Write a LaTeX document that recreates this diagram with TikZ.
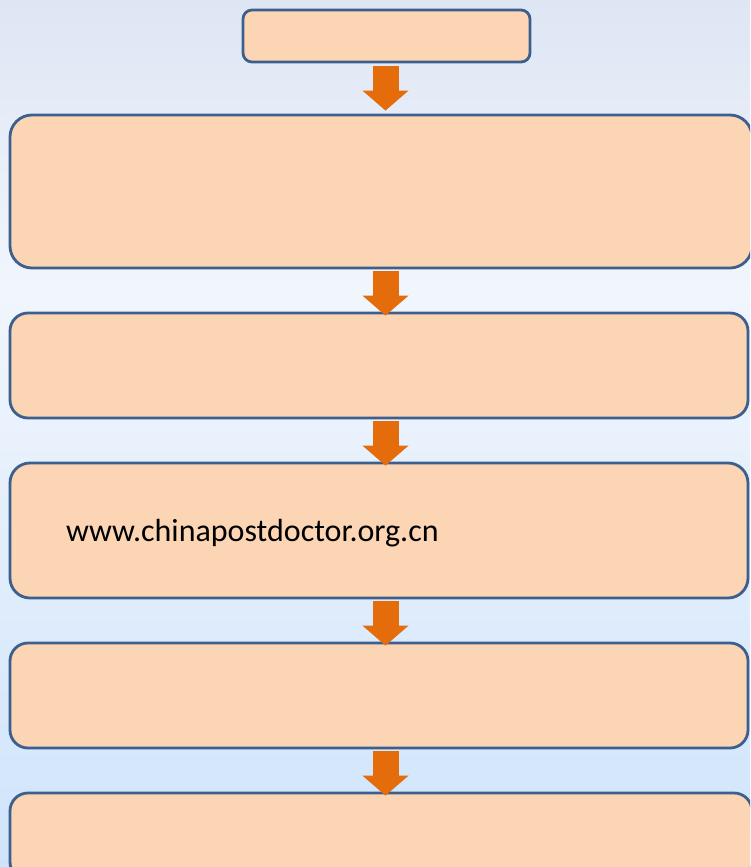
\documentclass[tikz,border=0pt]{standalone}
\usepackage{fontspec}
\setmainfont{Carlito}
\usetikzlibrary{arrows.meta,calc}
\definecolor{boxfill}{HTML}{FCD5B5}
\definecolor{boxline}{HTML}{3C5F8E}
\definecolor{arr}{HTML}{E46C0A}
\definecolor{bgtop}{HTML}{DEE6F4}
\definecolor{bgmid}{HTML}{F1F6FD}
\definecolor{bgbot}{HTML}{CFE4FB}
\begin{document}
\begin{tikzpicture}[x=1pt,y=-1pt,
  stage/.style={draw=boxline, line width=2.8pt, fill=boxfill, inner sep=0pt},
  flow/.style={draw=arr, line width=26pt, -{Triangle[width=45pt,length=20pt]}},
  url/.style={font=\fontsize{32}{38}\selectfont, inner sep=0pt, anchor=west}]
\useasboundingbox (0,0) rectangle (750,867);
\clip (0,0) rectangle (750,867);
\shade[top color=bgtop, bottom color=bgmid] (0,0) rectangle (750,290);
\shade[top color=bgmid, bottom color=bgbot] (0,289) rectangle (750,867);
\node[stage, rounded corners=9pt, minimum width=287pt, minimum height=52pt] (b1) at (386.5,36) {};
\node[stage, rounded corners=22pt, minimum width=742pt, minimum height=153pt] (b2) at (381,191.5) {};
\node[stage, rounded corners=18pt, minimum width=738pt, minimum height=105pt] (b3) at (379,365.5) {};
\node[stage, rounded corners=20pt, minimum width=738pt, minimum height=135pt] (b4) at (379,530.5) {};
\node[stage, rounded corners=18pt, minimum width=738pt, minimum height=105pt] (b5) at (379,695.5) {};
\node[stage, rounded corners=18pt, minimum width=742pt, minimum height=87pt] (b6) at (381,836.5) {};
\node[url] (t4) at (66,533) {www.chinapostdoctor.org.cn};
\coordinate (ax) at (385.5,0);
\draw[flow] ($(b1.south -| ax)+(0,3)$) -- ($(b2.north -| ax)+(0,-3)$);
\draw[flow] ($(b2.south -| ax)+(0,2)$) -- ($(b3.north -| ax)+(0,4)$);
\draw[flow] ($(b3.south -| ax)+(0,2)$) -- ($(b4.north -| ax)+(0,4)$);
\draw[flow] ($(b4.south -| ax)+(0,2)$) -- ($(b5.north -| ax)+(0,4)$);
\draw[flow] ($(b5.south -| ax)+(0,2)$) -- ($(b6.north -| ax)+(0,4)$);
\end{tikzpicture}
\end{document}
